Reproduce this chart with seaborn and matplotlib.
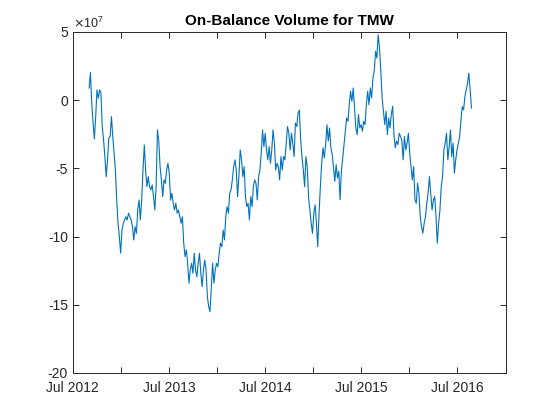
import numpy as np
import pandas as pd
import matplotlib
matplotlib.use("Agg")
import matplotlib.pyplot as plt
import matplotlib.dates as mdates
from matplotlib.ticker import ScalarFormatter
import seaborn as sns

# --- data (OBV in units of 1e7, roughly every 5 days) ---
start_date = "2012-09-01"
end_date = "2016-08-24"

obv_1e7 = [
    # Sep 2012 - Feb 2013
    0.87, 2.02, -0.23, -1.69, -2.84, -1.21, 0.75, 0.14, 0.75, 0.51,
    -1.94, -2.92, -4.14, -5.61, -4.38, -2.79, -2.67, -1.21, -2.67, -3.89,
    -5.12, -7.32, -9.03, -10.0, -11.22, -9.52, -9.03, -8.78, -8.54, -8.78,
    -8.29, -8.54, -8.78, -9.27, -10.25, -9.27, -9.76, -8.05, -7.32, -8.78,
    -7.32, -5.12, -3.28, -5.12, -6.34, -5.61, -6.34, -6.58, -6.22, -7.07,
    -8.05, -6.34, -2.18, -3.0,
    # Mar 2013 - Jun 2014
    -4.87, -5.85, -7.07, -5.85, -6.09, -5.12, -4.63, -5.36, -7.32, -6.83,
    -7.56, -8.05, -7.56, -8.29, -8.05, -8.54, -9.03, -8.54, -10.49, -11.47,
    -10.98, -11.96, -13.42, -12.45, -11.96, -12.69, -11.22, -12.45, -12.94, -11.96,
    -11.22, -12.69, -13.67, -12.45, -11.72, -12.45, -14.41, -15.14, -15.51, -13.67,
    -11.96, -13.42, -12.45, -11.96, -12.21, -11.22, -10.49, -10.74, -9.52, -10.25,
    -8.54, -7.81, -8.29, -6.83, -6.58, -5.85, -4.87, -4.38, -5.12, -7.07,
    -5.61, -3.65,
    # Jun 2014 - Jan 2015
    -4.38, -5.61, -4.87, -7.07, -7.81, -7.56, -8.78, -7.07, -7.81, -6.34,
    -5.85, -6.09, -7.32, -5.61, -5.12, -3.89, -2.18, -3.41, -2.43, -3.65,
    -4.38, -3.41, -4.63, -3.65, -2.18, -3.16, -5.12, -4.63, -4.87, -5.85,
    -4.14, -5.12, -4.14, -4.38, -3.16, -1.94, -2.43, -3.65, -2.43, -3.16,
    -4.14, -1.69, -1.94, -0.96, -0.72, -2.92, -4.14, -5.12, -6.34, -4.14,
    -4.87, -7.07, -8.05, -9.03, -9.76, -8.29, -7.68, -9.03, -10.74, -8.29,
    -6.34, -4.63,
    # Feb 2015 - Jan 2016
    -3.50, -4.24, -3.26, -1.80, -3.01, -2.04, -3.50, -3.99, -4.97, -5.95,
    -4.73, -5.70, -5.21, -7.29, -5.21, -4.24, -3.26, -2.28, -1.31, -1.55,
    -0.33, 0.65, -0.08, 0.89, -0.57, -2.04, -2.53, -1.06, -2.04, -1.80,
    -2.28, -1.55, -1.80, -0.33, 0.65, -0.33, 0.89, 0.16, 1.63, 2.12,
    3.58, 3.09, 4.80, 3.83, 2.12, 0.16, -0.81, -1.80, -0.81, -2.53,
    -1.31, -2.04, -1.06, -0.45, -2.53, -3.50, -3.01, -3.26,
    # Jan 2016 - Aug 2016
    -2.43, -2.67, -2.92, -4.38, -2.67, -3.65, -3.16, -2.43, -3.89, -4.87,
    -5.85, -4.87, -7.32, -7.56, -6.09, -6.83, -8.54, -9.27, -9.76, -9.03,
    -8.54, -7.56, -6.83, -5.61, -6.83, -8.05, -7.32, -7.07, -8.54, -10.49,
    -9.03, -8.05, -6.34, -5.61, -3.65, -3.16, -2.43, -4.38, -3.41, -2.18,
    -4.14, -3.16, -5.36, -4.38, -3.65, -3.16, -2.67, -1.45, -0.48, -0.72,
    0.26, 0.75, 1.24, 1.97, 0.75, -0.59,
]

dates = pd.date_range(start_date, end_date, periods=len(obv_1e7))
df = pd.DataFrame({"date": dates, "obv": np.array(obv_1e7) * 1e7})


class Exp7Formatter(ScalarFormatter):
    # force the x10^7 multiplier and integer tick labels, like the reference
    def _set_order_of_magnitude(self):
        self.orderOfMagnitude = 7

    def _set_format(self):
        self.format = "%d"


sns.set_theme(style="ticks")
plt.rcParams["font.family"] = ["Liberation Sans", "DejaVu Sans"]
plt.rcParams["axes.unicode_minus"] = False

fig = plt.figure(figsize=(5.6, 4.2), dpi=100)
ax = fig.add_axes([0.13, 0.112, 0.773, 0.812])

sns.lineplot(data=df, x="date", y="obv", ax=ax, color="#0072BD", linewidth=0.8)

ax.set_xlim(pd.Timestamp("2012-07-01"), pd.Timestamp("2017-01-01"))
ax.set_ylim(-2e8, 5e7)
ax.set_yticks(np.arange(-20, 6, 5) * 1e7)

fmt = Exp7Formatter(useMathText=True)
ax.yaxis.set_major_formatter(fmt)

ax.xaxis.set_major_locator(mdates.MonthLocator(bymonth=[1, 7]))
ax.xaxis.set_major_formatter(
    plt.FuncFormatter(lambda v, p: mdates.num2date(v).strftime("%b %Y") if mdates.num2date(v).month == 7 else "")
)

ax.set_xlabel("")
ax.set_ylabel("")
ax.set_title("On-Balance Volume for TMW", fontsize=11, fontweight="bold", color="black", pad=5)

dark = "#262626"
for sp in ax.spines.values():
    sp.set_visible(True)
    sp.set_color(dark)
    sp.set_linewidth(0.7)
ax.tick_params(direction="in", length=4, width=0.7, colors=dark, labelsize=10,
               top=True, right=True, labelcolor=dark)
ax.tick_params(axis="x", pad=6)
ax.yaxis.get_offset_text().set_fontsize(9)
ax.yaxis.get_offset_text().set_color(dark)

fig.savefig("out.png", dpi=100)
